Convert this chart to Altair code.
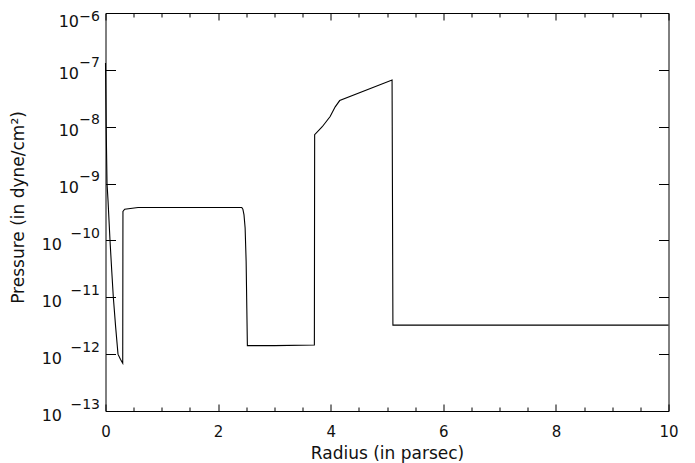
import altair as alt
import pandas as pd

# ---- data ----
radius = [0.0, 0.012, 0.027, 0.045, 0.08, 0.11, 0.139, 0.18, 0.222, 0.265, 0.306, 0.31, 0.341, 0.578,
          1.2, 2.42, 2.44, 2.46, 2.48, 2.498, 2.51, 2.52, 3.0, 3.71, 3.715, 3.85,
          3.99, 4.08, 4.16, 5.09, 5.105, 10.0]
log_pressure = [-6.88, -8.0, -9.0, -9.3, -10.0, -10.52, -11.0, -11.52, -12.0, -12.09, -12.16, -9.49, -9.45, -9.42,
                -9.42, -9.42, -9.45, -9.55, -9.78, -10.37, -11.19, -11.85, -11.85, -11.84, -8.14, -8.0,
                -7.82, -7.65, -7.54, -7.18, -11.49, -11.49]
pressure = [10 ** v for v in log_pressure]

x_major = [0, 2, 4, 6, 8, 10]
x_minor = [0.5, 1, 1.5, 2.5, 3, 3.5, 4.5, 5, 5.5, 6.5, 7, 7.5, 8.5, 9, 9.5]
y_ticks = [1e-6, 1e-7, 1e-8, 1e-9, 1e-10, 1e-11, 1e-12, 1e-13]
y_base = "10"
y_exp = ["\u22126", "\u22127", "\u22128", "\u22129", "\u221210", "\u221211", "\u221212", "\u221213"]

x_title = "Radius (in parsec)"
y_title = "Pressure (in dyne/cm\u00b2)"

W, H = 563, 398
FONT = "DejaVu Sans"
INK = "#111111"

df = pd.DataFrame({"r": radius, "p": pressure})

xs = alt.Scale(domain=[0, 10], nice=False, zero=False)
ys = alt.Scale(type="log", domain=[1e-13, 1e-6], nice=False)

exp_expr = "[" + ",".join("'" + s + "'" for s in y_exp) + "][round(-log(datum.value)/LN10) - 6]"

def tick_axis(orient, values, size, offset):
    return alt.Axis(orient=orient, values=values, tickSize=size, offset=offset,
                    labels=False, domain=False, grid=False, title=None,
                    tickColor="black", tickWidth=1)

# layer 1: the curve, bottom labels + title, left "10" labels + title
line = alt.Chart(df).mark_line(color="black", strokeWidth=1.1).encode(
    x=alt.X("r:Q", scale=xs, axis=alt.Axis(
        orient="bottom", values=x_major, ticks=False, tickSize=0, domain=False, grid=False,
        labelFlush=False, labelOverlap=False,
        labelFont=FONT, labelFontSize=15, labelColor=INK, labelPadding=13,
        title=x_title, titleFont=FONT, titleFontSize=17, titleFontWeight="normal",
        titleColor=INK, titleBaseline="alphabetic", titleY=47)),
    y=alt.Y("p:Q", scale=ys, axis=alt.Axis(
        orient="left", values=y_ticks, ticks=False, tickSize=0, domain=False, grid=False,
        labelFlush=False, labelOverlap=False,
        labelExpr="'" + y_base + "'", labelFont=FONT, labelFontSize=16, labelColor=INK,
        labelBaseline="middle",
        labelOffset={"condition": {"test": "datum.value > 5e-7", "value": 8}, "value": 4},
        labelPadding={"condition": {"test": "datum.value < 5e-10", "value": 44}, "value": 27},
        title=y_title, titleFont=FONT, titleFontSize=17, titleFontWeight="normal",
        titleColor=INK, titleX=-87, titleY=194, titleBaseline="middle")),
)

def ghost(xaxis, yaxis):
    enc = {"x": alt.X("r:Q", scale=xs, axis=xaxis)}
    enc["y"] = alt.Y("p:Q", scale=ys, axis=yaxis)
    return alt.Chart(df).mark_line(strokeOpacity=0).encode(**enc)

exp_axis = alt.Axis(orient="left", values=y_ticks, ticks=False, tickSize=0, domain=False,
                    grid=False, labelFlush=False, labelOverlap=False,
                    labelExpr=exp_expr, labelFont=FONT, labelFontSize=14,
                    labelColor=INK, labelBaseline="middle",
                    labelOffset={"condition": {"test": "datum.value > 5e-7", "value": 3}, "value": -7},
                    labelPadding=6, title=None)

layers = [
    line,
    ghost(tick_axis("top", x_major, 7, -H), exp_axis),
    ghost(tick_axis("top", x_minor, 4, -H), tick_axis("right", y_ticks, 10, -W)),
    ghost(tick_axis("bottom", x_major, 7, -H), tick_axis("left", y_ticks, 10, -W)),
    ghost(tick_axis("bottom", x_minor, 4, -H), None),
]

chart = alt.layer(*layers).resolve_axis(x="independent", y="independent").properties(
    width=W, height=H,
    autosize=alt.AutoSizeParams(type="none"),
    padding={"left": 97.5, "top": 5, "right": 10, "bottom": 52},
).configure_view(stroke="black", strokeWidth=1)

chart.save("out.html", embed_options={"renderer": "svg", "actions": False})
